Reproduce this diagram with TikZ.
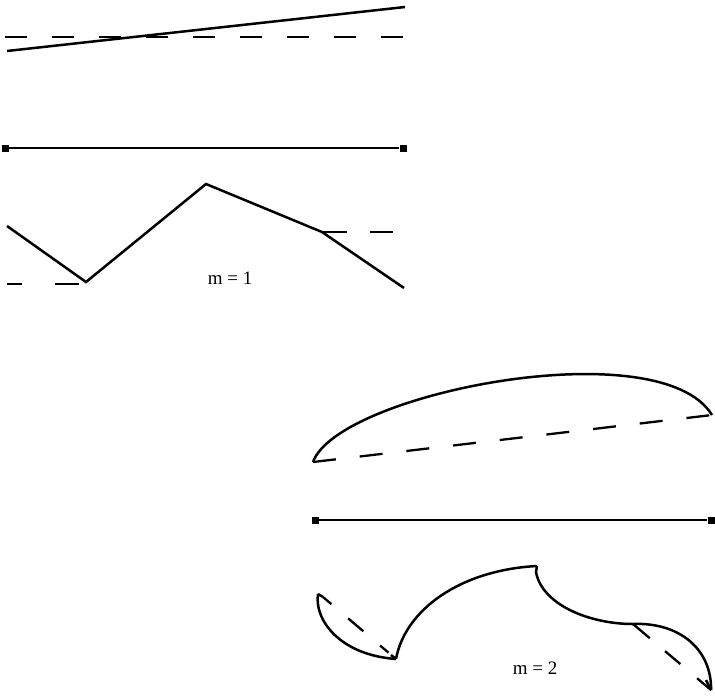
\documentclass[tikz,border=0pt]{standalone}
\usepackage{fontspec}
\setmainfont{Liberation Serif}
\begin{document}
\begin{tikzpicture}[x=1pt,y=-1pt,
  ln/.style={line width=2.5pt},
  dsh/.style={line width=2.5pt, dash pattern=on 22pt off 25pt},
  endsq/.style={fill=black, draw=none, minimum size=7pt, inner sep=0pt, rectangle},
  lbl/.style={font=\fontsize{19}{22}\selectfont, inner sep=0pt}]
\useasboundingbox (0,0) rectangle (715,697);
% top: linear function vs constant
\coordinate (t1) at (7,51);
\coordinate (t2) at (405,7);
\coordinate (d1) at (5,37);
\coordinate (d2) at (405,37);
\draw[dsh] (d1) -- (d2);
\draw[ln] (t1) -- (t2);
% interval 1
\node[endsq] (a1) at (5,148) {};
\node[endsq] (b1) at (403,148) {};
\draw[line width=2.2pt] (a1) -- (b1);
% zigzag
\coordinate (z1) at (7,226);
\coordinate (z2) at (86,282);
\coordinate (z3) at (206,184);
\coordinate (z4) at (322,232);
\coordinate (z5) at (404,288);
\draw[ln, line join=miter] (z1) -- (z2) -- (z3) -- (z4) -- (z5);
\coordinate (e1) at (7,284);
\coordinate (e1b) at (79,284);
\coordinate (e2) at (394,232);
\draw[line width=2.5pt, dash pattern=on 15pt off 33pt on 30pt off 30pt] (e1) -- (e1b);
\draw[line width=2.5pt, dash pattern=on 25pt off 23pt on 23pt off 30pt] (z4) -- (e2);
\node[lbl] (m1) at (230,278) {m = 1};
% arc m=2
\coordinate (p1) at (313,462);
\coordinate (p2) at (712,415);
\draw[line width=2.3pt, dash pattern=on 23pt off 24pt] (p1) -- (p2);
\draw[ln] (p1) .. controls (338,393) and (660,330) .. (p2);
% interval 2
\node[endsq] (a2) at (315,520) {};
\node[endsq] (b2) at (711,520) {};
\draw[line width=2.2pt] (a2) -- (b2);
% bottom piecewise quadratic
\coordinate (q1) at (318,594);
\coordinate (q2) at (396,659);
\coordinate (q3) at (537,566);
\coordinate (q4) at (633,624);
\coordinate (q5) at (711,690);
\draw[ln] (q1) -- (323,597);
\draw[line width=2.3pt, dash pattern=on 11pt off 22pt on 20pt off 22pt] (323,597) -- (q2);
\draw[ln] (q1) .. controls (314,620) and (340,655) .. (q2);
\draw[ln] (q2) -- (391,655);
\draw[ln] (q2) .. controls (405,610) and (460,570) .. (q3);
\draw[ln] (q3) -- (536,572) .. controls (542,605) and (590,624) .. (q4);
\draw[line width=2.3pt, dash pattern=on 22pt off 20pt on 20pt off 22pt] (q4) -- (q5);
\draw[ln] (q4) .. controls (680,622) and (712,650) .. (q5);
\draw[ln] (q5) -- (706,680);
\node[lbl] (m2) at (535,668) {m = 2};
\end{tikzpicture}
\end{document}
